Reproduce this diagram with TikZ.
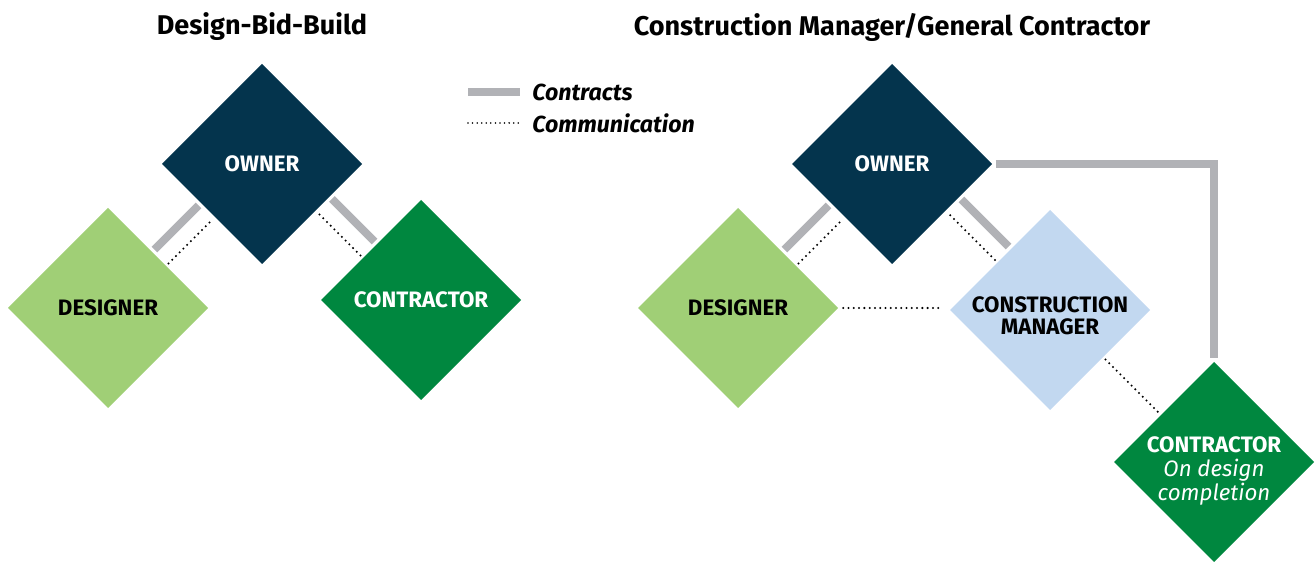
\documentclass[tikz,border=0pt]{standalone}
\usepackage{fontspec}
\setmainfont{Fira Sans}
\usetikzlibrary{shapes.geometric,positioning,calc}

\definecolor{ownerblue}{HTML}{04344D}
\definecolor{designgreen}{HTML}{A0CF76}
\definecolor{buildgreen}{HTML}{00873F}
\definecolor{managerblue}{HTML}{C2D8F0}
\definecolor{contractgray}{HTML}{B1B2B6}

\begin{document}
\begin{tikzpicture}[on grid,
    box/.style={diamond,aspect=1,minimum width=4cm,minimum height=4cm,inner sep=0pt,outer sep=0pt},
    lbl/.style={font=\bfseries\fontsize{12.7}{12.5}\selectfont,align=center},
    heading/.style={font=\bfseries\fontsize{15.4}{16}\selectfont},
    keytext/.style={font=\bfseries\itshape\fontsize{13.2}{14}\selectfont,anchor=west,inner sep=0pt},
    contract/.style={draw=contractgray,line width=4.5pt},
    talk/.style={line width=1.3pt,line cap=round,dash pattern=on 0pt off 3pt},
    gap/.style={shorten >=2pt,shorten <=2pt}]

    \useasboundingbox (0,0) rectangle (26.3,-11.24);

    % design-bid-build
    \node[box,fill=ownerblue] (ownA) at (5.24,-3.28) {};
    \node[box,fill=designgreen] (desA) [below left=2.88cm and 3.08cm of ownA] {};
    \node[box,fill=buildgreen] (conA) [below right=2.72cm and 3.18cm of ownA] {};

    \node[lbl,white] (ownAt) at (ownA) {OWNER};
    \node[lbl] (desAt) at (desA) {DESIGNER};
    \node[lbl,white] (conAt) at (conA) {CONTRACTOR};

    \node[heading] (headA) [above=2.74cm of ownA] {Design-Bid-Build};

    \draw[contract,gap] ($(desA.north)!.44!(desA.east)$) coordinate (pA) -- ($(ownA.west)!(pA)!(ownA.south)$);
    \draw[talk,gap] ($(desA.north)!.58!(desA.east)$) coordinate (qA) -- ($(ownA.west)!(qA)!(ownA.south)$);
    \draw[contract,gap] ($(conA.west)!.56!(conA.north)$) coordinate (rA) -- ($(ownA.south)!(rA)!(ownA.east)$);
    \draw[talk,gap] ($(conA.west)!.42!(conA.north)$) coordinate (sA) -- ($(ownA.south)!(sA)!(ownA.east)$);

    % legend
    \coordinate (keyA) at (9.36,-1.84);
    \coordinate[right=1.04cm of keyA] (keyB);
    \coordinate[below=0.62cm of keyA] (keyC);
    \coordinate[right=1.08cm of keyC] (keyD);
    \draw[contract] (keyA) -- (keyB);
    \draw[talk,line width=1pt,dash pattern=on 0pt off 2.6pt] (keyC) -- (keyD);
    \node[keytext] (keyAt) [right=0.24cm of keyB] {Contracts};
    \node[keytext] (keyCt) [right=0.2cm of keyD] {Communication};

    % construction manager / general contractor
    \node[box,fill=ownerblue] (ownB) [right=12.6cm of ownA] {};
    \node[box,fill=designgreen] (desB) [below left=2.88cm and 3.08cm of ownB] {};
    \node[box,fill=managerblue] (cmB) [below right=2.92cm and 3.16cm of ownB] {};
    \node[box,fill=buildgreen] (conB) [below right=3.04cm and 3.28cm of cmB] {};

    \node[lbl,white] (ownBt) at (ownB) {OWNER};
    \node[lbl] (desBt) at (desB) {DESIGNER};
    \node[lbl] (cmBt) [below=0.12cm of cmB] {CONSTRUCTION\\MANAGER};
    \node[lbl,white,font=\fontsize{12.7}{13.6}\selectfont] (conBt) [below=0.18cm of conB]
        {\textbf{CONTRACTOR}\\\textit{On design}\\\textit{completion}};

    \node[heading] (headB) [above=2.74cm of ownB] {Construction Manager/General Contractor};

    \draw[contract,gap] ($(desB.north)!.44!(desB.east)$) coordinate (pB) -- ($(ownB.west)!(pB)!(ownB.south)$);
    \draw[talk,gap] ($(desB.north)!.58!(desB.east)$) coordinate (qB) -- ($(ownB.west)!(qB)!(ownB.south)$);
    \draw[contract,gap] ($(cmB.west)!.61!(cmB.north)$) coordinate (rB) -- ($(ownB.south)!(rB)!(ownB.east)$);
    \draw[talk,gap] ($(cmB.west)!.475!(cmB.north)$) coordinate (sB) -- ($(ownB.south)!(sB)!(ownB.east)$);
    \draw[talk,shorten >=5pt,shorten <=3pt] (desB.east) -- (desB.east -| cmB.west);
    \draw[talk,gap] ($(cmB.east)!.47!(cmB.south)$) coordinate (tB) -- ($(conB.west)!(tB)!(conB.north)$);
    \draw[contract,gap] (ownB.east) -| (conB.north);
\end{tikzpicture}
\end{document}
